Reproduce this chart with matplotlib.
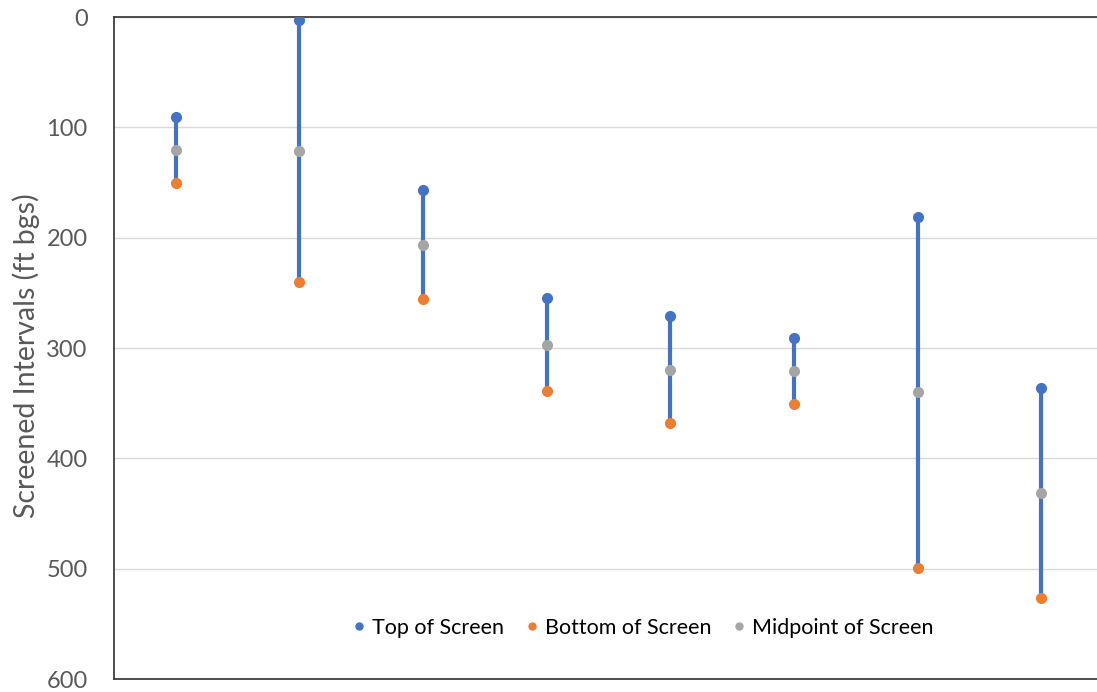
import matplotlib.pyplot as plt
from matplotlib.lines import Line2D

# Screened interval depths (ft below ground surface) for each well
wells = [1, 2, 3, 4, 5, 6, 7, 8]
top_of_screen = [91, 3, 157, 255, 271, 291, 181, 336]
bottom_of_screen = [150, 240, 256, 339, 368, 351, 499, 527]
midpoint = [(t + b) / 2 for t, b in zip(top_of_screen, bottom_of_screen)]

blue = '#4472C4'
orange = '#ED7D31'
gray = '#A5A5A5'

plt.rcParams['font.family'] = ['Lato', 'DejaVu Sans']

fig = plt.figure(figsize=(10.97, 6.92), dpi=100)
ax = fig.add_axes([114 / 1097, 1 - 679 / 692, 1 - 114 / 1097, (679 - 17) / 692])

x = [i - 0.5 for i in wells]

# Line spanning each screen, then the three markers
ax.vlines(x, top_of_screen, bottom_of_screen, color=blue, linewidth=3, zorder=2)
ax.plot(x, top_of_screen, 'o', color=blue, ms=7, zorder=3)
ax.plot(x, bottom_of_screen, 'o', color=orange, ms=7, zorder=3)
ax.plot(x, midpoint, 'o', color=gray, ms=7, zorder=4)

ax.set_xlim(0, 7.95)
ax.set_ylim(600, 0)
ax.set_yticks(range(0, 601, 100))
ax.set_xticks([])
ax.tick_params(axis='y', length=0, pad=19, labelsize=17, labelcolor='#595959')
ax.grid(axis='y', color='#D9D9D9', linewidth=1)
ax.set_axisbelow(True)

for side in ['left', 'top', 'bottom']:
    ax.spines[side].set_color('#404040')
    ax.spines[side].set_linewidth(1.3)
ax.spines['right'].set_visible(False)

fig.text(26 / 1097, 1 - 356 / 692, 'Screened Intervals (ft bgs)', rotation=90,
         ha='center', va='center', fontsize=20.5, color='#595959')

handles = [
    Line2D([], [], marker='o', linestyle='', color=blue, ms=5),
    Line2D([], [], marker='o', linestyle='', color=orange, ms=5),
    Line2D([], [], marker='o', linestyle='', color=gray, ms=5),
]
fig.legend(handles, ['Top of Screen', 'Bottom of Screen', 'Midpoint of Screen'],
           loc='center', bbox_to_anchor=(641 / 1097, 1 - 628 / 692), ncol=3,
           frameon=False, fontsize=15.5, handletextpad=0.1, columnspacing=0.8,
           handlelength=1.0)

fig.savefig('out.png', dpi=100)
